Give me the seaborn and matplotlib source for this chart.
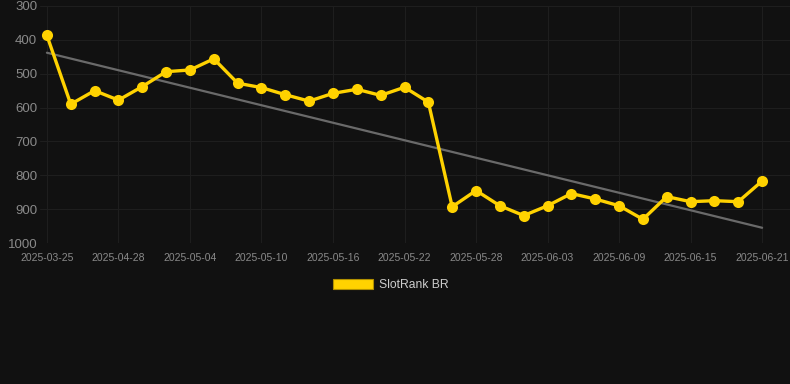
import numpy as np
import pandas as pd
import matplotlib
matplotlib.use("Agg")
import matplotlib.pyplot as plt
import seaborn as sns
from matplotlib.patches import Patch

# data
dates = ["2025-03-25", "2025-04-24", "2025-04-26", "2025-04-28", "2025-04-30",
         "2025-05-02", "2025-05-04", "2025-05-06", "2025-05-08", "2025-05-10",
         "2025-05-12", "2025-05-14", "2025-05-16", "2025-05-18", "2025-05-20",
         "2025-05-22", "2025-05-24", "2025-05-26", "2025-05-28", "2025-05-30",
         "2025-06-01", "2025-06-03", "2025-06-05", "2025-06-07", "2025-06-09",
         "2025-06-11", "2025-06-13", "2025-06-15", "2025-06-17", "2025-06-19",
         "2025-06-21"]
rank = [387, 590, 550, 578, 538, 494, 489, 456, 528, 541,
        562, 581, 558, 546, 564, 540, 584, 893, 845, 890,
        919, 890, 854, 870, 890, 930, 863, 878, 875, 878,
        817]
trend_ends = [438, 955]   # trend line at first and last date
series_name = "SlotRank BR"
y_ticks = [300, 400, 500, 600, 700, 800, 900, 1000]

BG = "#111111"
GOLD = "#FFD200"
GRID = "#1e1e1e"
TICK = "#8a8a8a"

df = pd.DataFrame({"idx": np.arange(len(dates)), "rank": rank})
trend = pd.DataFrame({"idx": [0, len(dates) - 1], "rank": trend_ends})

sns.set_theme(style="dark")
plt.rcParams["font.family"] = ["Liberation Sans", "DejaVu Sans"]

fig = plt.figure(figsize=(7.9, 3.84), dpi=100, facecolor=BG)
ax = fig.add_axes([40 / 790, (384 - 243) / 384, 750 / 790, 237 / 384])
ax.set_facecolor(BG)

sns.lineplot(data=trend, x="idx", y="rank", ax=ax, color="#6a6a6a", lw=1.6, zorder=2)
sns.lineplot(data=df, x="idx", y="rank", ax=ax, color=GOLD, lw=2.4,
             marker="o", markersize=8, markeredgewidth=0, zorder=3)

ax.set_ylim(1000, 300)
ax.set_xlim(-0.29, 31.17)
ax.set_yticks(y_ticks)
ax.set_yticklabels([str(v) for v in y_ticks], fontsize=9.5, color=TICK)
tick_pos = list(range(0, len(dates), 3))
ax.set_xticks(tick_pos)
ax.set_xticklabels([dates[i] for i in tick_pos], fontsize=7.5, color=TICK)
ax.tick_params(axis="y", length=0, pad=2)
ax.tick_params(axis="x", length=4, color=GRID, pad=3)
ax.grid(True, color=GRID, lw=0.8)
ax.set_xlabel("")
ax.set_ylabel("")
for s in ax.spines.values():
    s.set_visible(False)

handle = Patch(facecolor=GOLD, edgecolor="#b08f00", lw=0.8)
fig.legend([handle], [series_name], loc="center", bbox_to_anchor=(0.495, (384 - 285) / 384),
           frameon=False, fontsize=8.7, labelcolor="#cccccc",
           handlelength=3.3, handleheight=0.9, handletextpad=0.5)

fig.savefig("out.png", dpi=100, facecolor=BG)
